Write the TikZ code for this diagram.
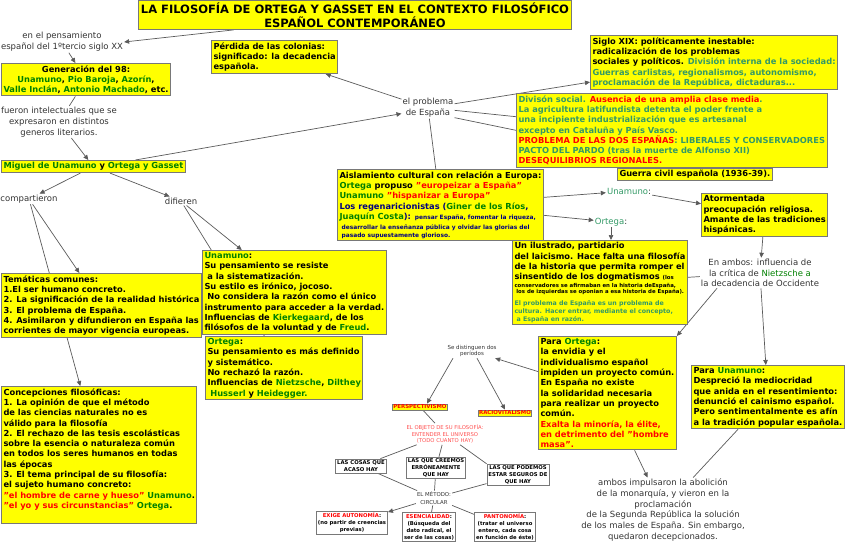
\documentclass[tikz,border=0pt]{standalone}
\usepackage{fontspec}
\setmainfont{DejaVu Sans}
\usetikzlibrary{arrows.meta}
\pgfdeclarelayer{fondo}
\pgfsetlayers{fondo,main}

\definecolor{amarillo}{RGB}{255,255,0}
\definecolor{borde}{RGB}{120,120,120}
\definecolor{verdeosc}{RGB}{0,128,0}
\definecolor{turquesa}{RGB}{51,153,102}
\definecolor{rojovivo}{RGB}{255,0,0}
\definecolor{azulmarino}{RGB}{0,0,128}
\definecolor{salmon}{RGB}{255,80,80}
\definecolor{gristexto}{RGB}{51,51,51}
\definecolor{grislinea}{RGB}{90,90,90}

\newcommand{\verde}[1]{\textcolor{verdeosc}{#1}}
\newcommand{\turq}[1]{\textcolor{turquesa}{#1}}
\newcommand{\rojo}[1]{\textcolor{rojovivo}{#1}}
\newcommand{\marino}[1]{\textcolor{azulmarino}{#1}}
\newcommand{\chico}[1]{{\fontsize{5.9}{7}\selectfont #1}}
\newcommand{\diminuto}[1]{{\fontsize{5.4}{6}\selectfont #1}}
\newcommand{\mediano}[1]{{\fontsize{6.3}{7.5}\selectfont #1}}

\tikzset{
  caja/.style={draw=borde, line width=1pt, fill=amarillo, inner sep=2pt,
    align=left, anchor=north west, font=\bfseries\fontsize{8.3}{10.3}\selectfont},
  etiqueta/.style={draw=borde, line width=.8pt, fill=amarillo, inner sep=1pt,
    text=rojovivo, font=\bfseries\fontsize{5.4}{6.5}\selectfont},
  cajita/.style={draw=borde, line width=.8pt, fill=white, inner sep=1.5pt,
    align=center, font=\bfseries\fontsize{5.3}{7}\selectfont},
  rotulo/.style={align=center, inner sep=1pt, text=gristexto,
    font=\fontsize{8.5}{10.8}\selectfont},
  enlace/.style={draw=grislinea, line width=.7pt},
  flecha/.style={enlace, -{Triangle[length=5pt,width=4.5pt]}}
}

\begin{document}
\begin{tikzpicture}[x=1pt,y=-1pt]
\useasboundingbox (0,0) rectangle (848,544);

% titulo
\node[caja, anchor=center, align=center, font=\bfseries\fontsize{11.5}{14}\selectfont] (titulo) at (355,15)
  {LA FILOSOFÍA DE ORTEGA Y GASSET EN EL CONTEXTO FILOSÓFICO\\ESPAÑOL CONTEMPORÁNEO};

% columna izquierda
\node[rotulo] (pensamiento) at (62,42) {en el pensamiento\\español del 1ºtercio siglo XX};
\node[caja, align=center] (generacion) at (1,63) {Generación del 98:\\
  \verde{Unamuno}, \verde{Pio Baroja}, \verde{Azorín},\\
  \verde{Valle Inclán}, \verde{Antonio Machado}, etc.};
\node[rotulo] (fueron) at (59,122) {fueron intelectuales que se\\expresaron en distintos\\generos literarios.};
\node[caja] (miguel) at (1,160) {\verde{Miguel de Unamuno} y \verde{Ortega y Gasset}};
\node[rotulo] (compartieron) at (29,199) {compartieron};
\node[rotulo] (difieren) at (181,201) {difieren};
\node[caja] (tematicas) at (1,273) {Temáticas comunes:\\
  1.El ser humano concreto.\\
  2. La significación de la realidad histórica\\
  3. El problema de España.\\
  4. Asimilaron y difundieron en España las\\
  corrientes de mayor vigencia europeas.};
\node[caja, text depth=13pt] (concepciones) at (1,386) {Concepciones filosóficas:\\
  1. La opinión de que el método\\
  de las ciencias naturales no es\\
  válido para la filosofía\\
  2. El rechazo de las tesis escolásticas\\
  sobre la esencia o naturaleza común\\
  en todos los seres humanos en todas\\
  las épocas\\
  3. El tema principal de su filosofía:\\
  el sujeto humano concreto:\\
  \rojo{"el hombre de carne y hueso"} \verde{Unamuno}.\\
  \rojo{"el yo y sus circunstancias"} \verde{Ortega}.};
\node[caja] (unamunob) at (202,250) {\verde{Unamuno}:\\
  Su pensamiento se resiste\\
  \ a la sistematización.\\
  Su estilo es irónico, jocoso.\\
  \ No considera la razón como el único\\
  instrumento para acceder a la verdad.\\
  Influencias de \verde{Kierkegaard}, de los\\
  filósofos de la voluntad y de \verde{Freud}.};
\node[caja] (ortegab) at (205,336) {\verde{Ortega}:\\
  Su pensamiento es más definido\\
  y sistemático.\\
  No rechazó la razón.\\
  Influencias de \verde{Nietzsche}, \verde{Dilthey}\\
  \ \verde{Husserl} y \verde{Heidegger.}};

% centro
\node[caja] (perdida) at (211,40) {Pérdida de las colonias:\\significado: la decadencia\\española.};
\node[rotulo] (problema) at (428,108) {el problema\\de España};
\node[caja] (aislamiento) at (337,169) {Aislamiento cultural con relación a Europa:\\
  \verde{Ortega} propuso \rojo{"europeizar a España"}\\
  \verde{Unamuno} \rojo{"hispanizar a Europa"}\\
  \marino{Los regenaricionistas (}\verde{Giner de los Ríos}\marino{,}\\
  \verde{Juaquín Costa}\marino{): \chico{pensar España, fomentar la riqueza,}}\\[-0.3pt]
  \marino{\chico{\ desarrollar la enseñanza pública y olvidar las glorias del}}\\[-2.3pt]
  \marino{\chico{\ pasado supuestamente glorioso.}}};

% columna derecha
\node[caja] (siglo) at (590,35) {Siglo XIX: políticamente inestable:\\
  radicalización de los problemas\\
  sociales y políticos. \turq{División interna de la sociedad:}\\
  \turq{Guerras carlistas, regionalismos, autonomismo,}\\
  \turq{proclamación de la República, dictaduras...}};
\node[caja] (division) at (516,93) {\turq{Divisón social.} \rojo{Ausencia de una amplia clase media}\turq{.}\\
  \turq{La agricultura latifundista detenta el poder frente a}\\
  \turq{una incipiente industrialización que es artesanal}\\
  \turq{excepto en Cataluña y País Vasco.}\\
  \rojo{PROBLEMA DE LAS DOS ESPAÑAS}\turq{: LIBERALES Y CONSERVADORES}\\
  \turq{PACTO DEL PARDO (tras la muerte de Alfonso XII)}\\
  \rojo{DESEQUILIBRIOS REGIONALES.}};
\node[caja] (guerra) at (617,168) {Guerra civil española (1936-39).};
\node[rotulo] (unamunol) at (629,191) {\turq{Unamuno}:};
\node[rotulo] (ortegal) at (611,222) {\turq{Ortega}:};
\node[caja] (atormentada) at (701,193) {Atormentada\\preocupación religiosa.\\Amante de las tradiciones\\hispánicas.};
\node[caja] (ilustrado) at (512,240) {Un ilustrado, partidario\\
  del laicismo. Hace falta una filosofía\\
  de la historia que permita romper el\\
  sinsentido de los dogmatismos \diminuto{(los}\\[-2.3pt]
  \diminuto{conservadores se afirmaban en la historia deEspaña,}\\[-4.7pt]
  \diminuto{\ los de izquierdas se oponian a esa historia de España).}\\[1.7pt]
  \turq{\mediano{El problema de España es un problema de}}\\[-2.3pt]
  \turq{\mediano{cultura. Hacer entrar, mediante el concepto,}}\\[-2.3pt]
  \turq{\mediano{\ a España en razón.}}};
\node[rotulo] (ambos) at (760,273) {En ambos: influencia de\\la crítica de \verde{Nietzsche a}\\la decadencia de Occidente};
\node[caja] (paraortega) at (538,336) {Para \verde{Ortega}:\\
  la envidia y el\\
  individualismo español\\
  impiden un proyecto común.\\
  En España no existe\\
  la solidaridad necesaria\\
  para realizar un proyecto\\
  común.\\
  \rojo{Exalta la minoría, la élite,}\\
  \rojo{en detrimento del "hombre}\\
  \rojo{masa".}};
\node[caja] (paraunamuno) at (691,365) {Para \verde{Unamuno}:\\
  Despreció la mediocridad\\
  que anida en el resentimiento:\\
  denunció el cainismo español.\\
  Pero sentimentalmente es afín\\
  a la tradición popular española.};
\node[rotulo] (ambosimp) at (663,510) {ambos impulsaron la abolición\\
  de la monarquía, y vieron en la\\
  proclamación\\
  de la Segunda República la solución\\
  de los males de España. Sin embargo,\\
  quedaron decepcionados.};

% zona de abajo
\node[rotulo, font=\fontsize{5.5}{6.7}\selectfont] (distinguen) at (472,351) {Se distinguen dos\\períodos};
\node[etiqueta] (perspectivismo) at (420,407) {PERSPECTIVISMO};
\node[etiqueta] (racio) at (505,413) {RACIOVITALISMO};
\node[rotulo, text=salmon, font=\fontsize{5.3}{6.8}\selectfont] (objeto) at (445,434)
  {EL OBJETO DE SU FILOSOFÍA:\\ENTENDER EL UNIVERSO\\(TODO CUANTO HAY)};
\node[cajita] (cosas) at (361,466) {LAS COSAS QUE\\ACASO HAY};
\node[cajita] (creemos) at (436,468) {LAS QUE CREEMOS\\ERRÓNEAMENTE\\QUE HAY};
\node[cajita] (podemos) at (518,475) {LAS QUE PODEMOS\\ESTAR SEGUROS DE\\QUE HAY};
\node[rotulo, font=\fontsize{5.4}{7.3}\selectfont] (metodo) at (434,498) {EL MÉTODO:\\CIRCULAR};
\node[cajita] (exige) at (352,523) {\rojo{EXIGE AUTONOMÍA}:\\(no partir de creencias\\previas)};
\node[cajita] (esencialidad) at (429,527) {\rojo{ESENCIALIDAD}:\\(Búsqueda del\\dato radical, el\\ser de las cosas)};
\node[cajita] (pantonomia) at (505,527) {\rojo{PANTONOMÍA}:\\(tratar el universo\\entero, cada cosa\\en función de éste)};

% enlaces
\begin{pgfonlayer}{fondo}
\draw[flecha] (titulo.187) -- (pensamiento.east);
\draw[flecha] (pensamiento) -- (generacion);
\draw[enlace] (generacion) -- (fueron);
\draw[flecha] (fueron) -- (miguel);
\draw[flecha] ([xshift=42]miguel.north) -- (problema.192);
\draw[flecha] (miguel) -- (compartieron);
\draw[flecha] (miguel) -- (difieren);
\draw[flecha] (compartieron) -- (tematicas);
\draw[flecha] (compartieron) -- (concepciones);
\draw[flecha] (difieren) -- (unamunob);
\draw[enlace] (difieren) -- (ortegab);
\draw[flecha] (problema) -- (perdida);
\draw[flecha] (problema) -- (siglo);
\draw[enlace] (problema.-5) -- (division.175);
\draw[enlace] (problema.-20) -- (division.west);
\draw[enlace] (problema) -- (aislamiento);
\draw[flecha] (aislamiento) -- (unamunol);
\draw[flecha] (aislamiento) -- (ortegal);
\draw[flecha] (unamunol) -- (atormentada);
\draw[flecha] (ortegal) -- (ortegal |- ilustrado.north);
\draw[flecha] (atormentada) -- (ambos);
\draw[enlace] (ilustrado) -- (ambos);
\draw[flecha] ([xshift=-43]ambos.south) -- (paraortega.north east);
\draw[flecha] (ambos) -- (paraunamuno);
\draw[flecha] (paraortega) -- (distinguen);
\draw[flecha] (paraortega) -- (ambosimp);
\draw[enlace] (paraunamuno) -- (ambosimp);
\draw[flecha] ([xshift=-19]distinguen.south) -- ([xshift=7]perspectivismo.north);
\draw[flecha] ([xshift=5]distinguen.south) -- (racio.north);
\draw[enlace] (perspectivismo) -- (objeto);
\draw[enlace] (objeto) -- (cosas);
\draw[enlace] (objeto) -- (creemos);
\draw[enlace] (objeto) -- (podemos.north west);
\draw[enlace] (cosas) -- (metodo);
\draw[enlace] (creemos) -- (metodo);
\draw[enlace] (podemos) -- (metodo);
\draw[flecha] (metodo) -- (exige);
\draw[enlace] (metodo) -- (esencialidad);
\draw[enlace] (metodo) -- (pantonomia);
\end{pgfonlayer}
\end{tikzpicture}
\end{document}
